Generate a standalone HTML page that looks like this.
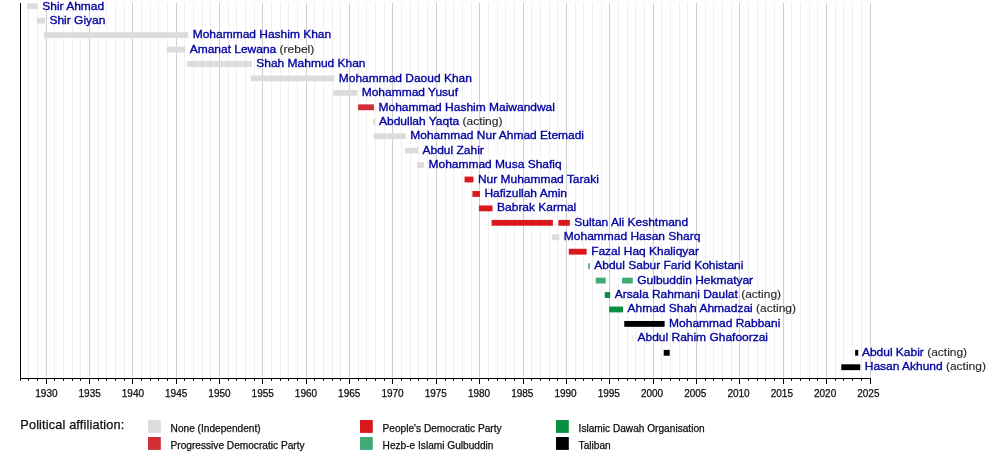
<!DOCTYPE html>
<html><head><meta charset="utf-8"><title>Timeline</title>
<style>
html,body{margin:0;padding:0;background:#fff;}
svg{display:block;font-family:"Liberation Sans",sans-serif;}
.n{font-size:11.6px;fill:#0202a0;stroke:#0202a0;stroke-width:0.34px;}
.a{fill:#282828;stroke:#282828;stroke-width:0.15px;}
.t{font-size:10px;fill:#0e0e0e;stroke:#0e0e0e;stroke-width:0.25px;text-anchor:middle;}
.l{font-size:10.15px;fill:#0e0e0e;stroke:#0e0e0e;stroke-width:0.25px;}
.h{font-size:12.7px;fill:#0e0e0e;stroke:#0e0e0e;stroke-width:0.25px;}
</style></head><body>
<svg width="1000" height="458" viewBox="0 0 1000 458">
<rect width="1000" height="458" fill="#fff"/>
<line x1="28.50" y1="3" x2="28.50" y2="378" stroke="#f0f0f0" stroke-width="1"/>
<line x1="37.50" y1="3" x2="37.50" y2="378" stroke="#f0f0f0" stroke-width="1"/>
<line x1="46.50" y1="3" x2="46.50" y2="378" stroke="#d0d0d0" stroke-width="1"/>
<line x1="54.50" y1="3" x2="54.50" y2="378" stroke="#f0f0f0" stroke-width="1"/>
<line x1="63.50" y1="3" x2="63.50" y2="378" stroke="#f0f0f0" stroke-width="1"/>
<line x1="72.50" y1="3" x2="72.50" y2="378" stroke="#f0f0f0" stroke-width="1"/>
<line x1="80.50" y1="3" x2="80.50" y2="378" stroke="#f0f0f0" stroke-width="1"/>
<line x1="89.50" y1="3" x2="89.50" y2="378" stroke="#d0d0d0" stroke-width="1"/>
<line x1="98.50" y1="3" x2="98.50" y2="378" stroke="#f0f0f0" stroke-width="1"/>
<line x1="106.50" y1="3" x2="106.50" y2="378" stroke="#f0f0f0" stroke-width="1"/>
<line x1="115.50" y1="3" x2="115.50" y2="378" stroke="#f0f0f0" stroke-width="1"/>
<line x1="124.50" y1="3" x2="124.50" y2="378" stroke="#f0f0f0" stroke-width="1"/>
<line x1="132.50" y1="3" x2="132.50" y2="378" stroke="#d0d0d0" stroke-width="1"/>
<line x1="141.50" y1="3" x2="141.50" y2="378" stroke="#f0f0f0" stroke-width="1"/>
<line x1="150.50" y1="3" x2="150.50" y2="378" stroke="#f0f0f0" stroke-width="1"/>
<line x1="158.50" y1="3" x2="158.50" y2="378" stroke="#f0f0f0" stroke-width="1"/>
<line x1="167.50" y1="3" x2="167.50" y2="378" stroke="#f0f0f0" stroke-width="1"/>
<line x1="176.50" y1="3" x2="176.50" y2="378" stroke="#d0d0d0" stroke-width="1"/>
<line x1="184.50" y1="3" x2="184.50" y2="378" stroke="#f0f0f0" stroke-width="1"/>
<line x1="193.50" y1="3" x2="193.50" y2="378" stroke="#f0f0f0" stroke-width="1"/>
<line x1="202.50" y1="3" x2="202.50" y2="378" stroke="#f0f0f0" stroke-width="1"/>
<line x1="210.50" y1="3" x2="210.50" y2="378" stroke="#f0f0f0" stroke-width="1"/>
<line x1="219.50" y1="3" x2="219.50" y2="378" stroke="#d0d0d0" stroke-width="1"/>
<line x1="228.50" y1="3" x2="228.50" y2="378" stroke="#f0f0f0" stroke-width="1"/>
<line x1="236.50" y1="3" x2="236.50" y2="378" stroke="#f0f0f0" stroke-width="1"/>
<line x1="245.50" y1="3" x2="245.50" y2="378" stroke="#f0f0f0" stroke-width="1"/>
<line x1="254.50" y1="3" x2="254.50" y2="378" stroke="#f0f0f0" stroke-width="1"/>
<line x1="262.50" y1="3" x2="262.50" y2="378" stroke="#d0d0d0" stroke-width="1"/>
<line x1="271.50" y1="3" x2="271.50" y2="378" stroke="#f0f0f0" stroke-width="1"/>
<line x1="280.50" y1="3" x2="280.50" y2="378" stroke="#f0f0f0" stroke-width="1"/>
<line x1="288.50" y1="3" x2="288.50" y2="378" stroke="#f0f0f0" stroke-width="1"/>
<line x1="297.50" y1="3" x2="297.50" y2="378" stroke="#f0f0f0" stroke-width="1"/>
<line x1="306.50" y1="3" x2="306.50" y2="378" stroke="#d0d0d0" stroke-width="1"/>
<line x1="314.50" y1="3" x2="314.50" y2="378" stroke="#f0f0f0" stroke-width="1"/>
<line x1="323.50" y1="3" x2="323.50" y2="378" stroke="#f0f0f0" stroke-width="1"/>
<line x1="332.50" y1="3" x2="332.50" y2="378" stroke="#f0f0f0" stroke-width="1"/>
<line x1="340.50" y1="3" x2="340.50" y2="378" stroke="#f0f0f0" stroke-width="1"/>
<line x1="349.50" y1="3" x2="349.50" y2="378" stroke="#d0d0d0" stroke-width="1"/>
<line x1="358.50" y1="3" x2="358.50" y2="378" stroke="#f0f0f0" stroke-width="1"/>
<line x1="366.50" y1="3" x2="366.50" y2="378" stroke="#f0f0f0" stroke-width="1"/>
<line x1="375.50" y1="3" x2="375.50" y2="378" stroke="#f0f0f0" stroke-width="1"/>
<line x1="384.50" y1="3" x2="384.50" y2="378" stroke="#f0f0f0" stroke-width="1"/>
<line x1="392.50" y1="3" x2="392.50" y2="378" stroke="#d0d0d0" stroke-width="1"/>
<line x1="401.50" y1="3" x2="401.50" y2="378" stroke="#f0f0f0" stroke-width="1"/>
<line x1="410.50" y1="3" x2="410.50" y2="378" stroke="#f0f0f0" stroke-width="1"/>
<line x1="418.50" y1="3" x2="418.50" y2="378" stroke="#f0f0f0" stroke-width="1"/>
<line x1="427.50" y1="3" x2="427.50" y2="378" stroke="#f0f0f0" stroke-width="1"/>
<line x1="436.50" y1="3" x2="436.50" y2="378" stroke="#d0d0d0" stroke-width="1"/>
<line x1="445.50" y1="3" x2="445.50" y2="378" stroke="#f0f0f0" stroke-width="1"/>
<line x1="453.50" y1="3" x2="453.50" y2="378" stroke="#f0f0f0" stroke-width="1"/>
<line x1="462.50" y1="3" x2="462.50" y2="378" stroke="#f0f0f0" stroke-width="1"/>
<line x1="471.50" y1="3" x2="471.50" y2="378" stroke="#f0f0f0" stroke-width="1"/>
<line x1="479.50" y1="3" x2="479.50" y2="378" stroke="#d0d0d0" stroke-width="1"/>
<line x1="488.50" y1="3" x2="488.50" y2="378" stroke="#f0f0f0" stroke-width="1"/>
<line x1="497.50" y1="3" x2="497.50" y2="378" stroke="#f0f0f0" stroke-width="1"/>
<line x1="505.50" y1="3" x2="505.50" y2="378" stroke="#f0f0f0" stroke-width="1"/>
<line x1="514.50" y1="3" x2="514.50" y2="378" stroke="#f0f0f0" stroke-width="1"/>
<line x1="523.50" y1="3" x2="523.50" y2="378" stroke="#d0d0d0" stroke-width="1"/>
<line x1="531.50" y1="3" x2="531.50" y2="378" stroke="#f0f0f0" stroke-width="1"/>
<line x1="540.50" y1="3" x2="540.50" y2="378" stroke="#f0f0f0" stroke-width="1"/>
<line x1="549.50" y1="3" x2="549.50" y2="378" stroke="#f0f0f0" stroke-width="1"/>
<line x1="557.50" y1="3" x2="557.50" y2="378" stroke="#f0f0f0" stroke-width="1"/>
<line x1="566.50" y1="3" x2="566.50" y2="378" stroke="#d0d0d0" stroke-width="1"/>
<line x1="575.50" y1="3" x2="575.50" y2="378" stroke="#f0f0f0" stroke-width="1"/>
<line x1="583.50" y1="3" x2="583.50" y2="378" stroke="#f0f0f0" stroke-width="1"/>
<line x1="592.50" y1="3" x2="592.50" y2="378" stroke="#f0f0f0" stroke-width="1"/>
<line x1="601.50" y1="3" x2="601.50" y2="378" stroke="#f0f0f0" stroke-width="1"/>
<line x1="609.50" y1="3" x2="609.50" y2="378" stroke="#d0d0d0" stroke-width="1"/>
<line x1="618.50" y1="3" x2="618.50" y2="378" stroke="#f0f0f0" stroke-width="1"/>
<line x1="627.50" y1="3" x2="627.50" y2="378" stroke="#f0f0f0" stroke-width="1"/>
<line x1="635.50" y1="3" x2="635.50" y2="378" stroke="#f0f0f0" stroke-width="1"/>
<line x1="644.50" y1="3" x2="644.50" y2="378" stroke="#f0f0f0" stroke-width="1"/>
<line x1="653.50" y1="3" x2="653.50" y2="378" stroke="#d0d0d0" stroke-width="1"/>
<line x1="661.50" y1="3" x2="661.50" y2="378" stroke="#f0f0f0" stroke-width="1"/>
<line x1="670.50" y1="3" x2="670.50" y2="378" stroke="#f0f0f0" stroke-width="1"/>
<line x1="679.50" y1="3" x2="679.50" y2="378" stroke="#f0f0f0" stroke-width="1"/>
<line x1="687.50" y1="3" x2="687.50" y2="378" stroke="#f0f0f0" stroke-width="1"/>
<line x1="696.50" y1="3" x2="696.50" y2="378" stroke="#d0d0d0" stroke-width="1"/>
<line x1="705.50" y1="3" x2="705.50" y2="378" stroke="#f0f0f0" stroke-width="1"/>
<line x1="713.50" y1="3" x2="713.50" y2="378" stroke="#f0f0f0" stroke-width="1"/>
<line x1="722.50" y1="3" x2="722.50" y2="378" stroke="#f0f0f0" stroke-width="1"/>
<line x1="731.50" y1="3" x2="731.50" y2="378" stroke="#f0f0f0" stroke-width="1"/>
<line x1="739.50" y1="3" x2="739.50" y2="378" stroke="#d0d0d0" stroke-width="1"/>
<line x1="748.50" y1="3" x2="748.50" y2="378" stroke="#f0f0f0" stroke-width="1"/>
<line x1="757.50" y1="3" x2="757.50" y2="378" stroke="#f0f0f0" stroke-width="1"/>
<line x1="765.50" y1="3" x2="765.50" y2="378" stroke="#f0f0f0" stroke-width="1"/>
<line x1="774.50" y1="3" x2="774.50" y2="378" stroke="#f0f0f0" stroke-width="1"/>
<line x1="783.50" y1="3" x2="783.50" y2="378" stroke="#d0d0d0" stroke-width="1"/>
<line x1="791.50" y1="3" x2="791.50" y2="378" stroke="#f0f0f0" stroke-width="1"/>
<line x1="800.50" y1="3" x2="800.50" y2="378" stroke="#f0f0f0" stroke-width="1"/>
<line x1="809.50" y1="3" x2="809.50" y2="378" stroke="#f0f0f0" stroke-width="1"/>
<line x1="817.50" y1="3" x2="817.50" y2="378" stroke="#f0f0f0" stroke-width="1"/>
<line x1="826.50" y1="3" x2="826.50" y2="378" stroke="#d0d0d0" stroke-width="1"/>
<line x1="835.50" y1="3" x2="835.50" y2="378" stroke="#f0f0f0" stroke-width="1"/>
<line x1="843.50" y1="3" x2="843.50" y2="378" stroke="#f0f0f0" stroke-width="1"/>
<line x1="852.50" y1="3" x2="852.50" y2="378" stroke="#f0f0f0" stroke-width="1"/>
<line x1="861.50" y1="3" x2="861.50" y2="378" stroke="#f0f0f0" stroke-width="1"/>
<line x1="870.50" y1="3" x2="870.50" y2="378" stroke="#d0d0d0" stroke-width="1"/>
<rect x="27.21" y="3.30" width="10.54" height="5.85" fill="#dcdcdc"/>
<rect x="36.75" y="17.74" width="8.22" height="5.85" fill="#dcdcdc"/>
<rect x="43.96" y="32.18" width="144.26" height="5.85" fill="#dcdcdc"/>
<rect x="166.84" y="46.62" width="18.35" height="5.85" fill="#dcdcdc"/>
<rect x="187.23" y="61.06" width="64.58" height="5.85" fill="#dcdcdc"/>
<rect x="250.81" y="75.50" width="83.43" height="5.85" fill="#dcdcdc"/>
<rect x="333.24" y="89.94" width="23.97" height="5.85" fill="#dcdcdc"/>
<rect x="358.08" y="104.38" width="15.96" height="5.85" fill="#d02e36"/>
<rect x="373.00" y="118.82" width="2.13" height="5.85" fill="#dcdcdc"/>
<rect x="373.54" y="133.26" width="32.25" height="5.85" fill="#dcdcdc"/>
<rect x="404.79" y="147.70" width="13.27" height="5.85" fill="#dcdcdc"/>
<rect x="417.06" y="162.14" width="6.98" height="5.85" fill="#dcdcdc"/>
<rect x="464.57" y="176.58" width="8.84" height="5.85" fill="#da1820"/>
<rect x="472.41" y="191.02" width="7.53" height="5.85" fill="#da1820"/>
<rect x="478.94" y="205.46" width="13.62" height="5.85" fill="#da1820"/>
<rect x="491.57" y="219.90" width="61.35" height="5.85" fill="#da1820"/>
<rect x="558.34" y="219.90" width="11.48" height="5.85" fill="#da1820"/>
<rect x="551.92" y="234.34" width="7.42" height="5.85" fill="#dcdcdc"/>
<rect x="568.81" y="248.78" width="17.82" height="5.85" fill="#da1820"/>
<rect x="588.18" y="263.22" width="1.61" height="5.85" fill="#40a974"/>
<rect x="595.78" y="277.66" width="9.93" height="5.85" fill="#40a974"/>
<rect x="622.04" y="277.66" width="10.74" height="5.85" fill="#40a974"/>
<rect x="604.72" y="292.10" width="5.45" height="5.85" fill="#0a8e42"/>
<rect x="609.16" y="306.54" width="13.88" height="5.85" fill="#0a8e42"/>
<rect x="624.25" y="320.98" width="40.38" height="5.85" fill="#000000"/>
<rect x="632.48" y="335.37" width="0.7" height="5.8" fill="#dcdcdc"/>
<rect x="663.70" y="349.86" width="6.01" height="5.85" fill="#000000"/>
<rect x="855.13" y="349.86" width="3.08" height="5.85" fill="#000000"/>
<rect x="841.25" y="364.30" width="18.97" height="5.85" fill="#000000"/>
<line x1="20.5" y1="3" x2="20.5" y2="379" stroke="#000" stroke-width="1"/>
<line x1="20" y1="378.5" x2="871" y2="378.5" stroke="#000" stroke-width="1"/>
<line x1="20.50" y1="378.2" x2="20.50" y2="380.8" stroke="#000" stroke-width="1"/>
<line x1="28.50" y1="378.2" x2="28.50" y2="380.8" stroke="#000" stroke-width="1"/>
<line x1="37.50" y1="378.2" x2="37.50" y2="380.8" stroke="#000" stroke-width="1"/>
<line x1="46.50" y1="378.2" x2="46.50" y2="384" stroke="#000" stroke-width="1"/>
<text class="t" x="46.42" y="396.9">1930</text>
<line x1="54.50" y1="378.2" x2="54.50" y2="380.8" stroke="#000" stroke-width="1"/>
<line x1="63.50" y1="378.2" x2="63.50" y2="380.8" stroke="#000" stroke-width="1"/>
<line x1="72.50" y1="378.2" x2="72.50" y2="380.8" stroke="#000" stroke-width="1"/>
<line x1="80.50" y1="378.2" x2="80.50" y2="380.8" stroke="#000" stroke-width="1"/>
<line x1="89.50" y1="378.2" x2="89.50" y2="384" stroke="#000" stroke-width="1"/>
<text class="t" x="89.68" y="396.9">1935</text>
<line x1="98.50" y1="378.2" x2="98.50" y2="380.8" stroke="#000" stroke-width="1"/>
<line x1="106.50" y1="378.2" x2="106.50" y2="380.8" stroke="#000" stroke-width="1"/>
<line x1="115.50" y1="378.2" x2="115.50" y2="380.8" stroke="#000" stroke-width="1"/>
<line x1="124.50" y1="378.2" x2="124.50" y2="380.8" stroke="#000" stroke-width="1"/>
<line x1="132.50" y1="378.2" x2="132.50" y2="384" stroke="#000" stroke-width="1"/>
<text class="t" x="132.94" y="396.9">1940</text>
<line x1="141.50" y1="378.2" x2="141.50" y2="380.8" stroke="#000" stroke-width="1"/>
<line x1="150.50" y1="378.2" x2="150.50" y2="380.8" stroke="#000" stroke-width="1"/>
<line x1="158.50" y1="378.2" x2="158.50" y2="380.8" stroke="#000" stroke-width="1"/>
<line x1="167.50" y1="378.2" x2="167.50" y2="380.8" stroke="#000" stroke-width="1"/>
<line x1="176.50" y1="378.2" x2="176.50" y2="384" stroke="#000" stroke-width="1"/>
<text class="t" x="176.20" y="396.9">1945</text>
<line x1="184.50" y1="378.2" x2="184.50" y2="380.8" stroke="#000" stroke-width="1"/>
<line x1="193.50" y1="378.2" x2="193.50" y2="380.8" stroke="#000" stroke-width="1"/>
<line x1="202.50" y1="378.2" x2="202.50" y2="380.8" stroke="#000" stroke-width="1"/>
<line x1="210.50" y1="378.2" x2="210.50" y2="380.8" stroke="#000" stroke-width="1"/>
<line x1="219.50" y1="378.2" x2="219.50" y2="384" stroke="#000" stroke-width="1"/>
<text class="t" x="219.46" y="396.9">1950</text>
<line x1="228.50" y1="378.2" x2="228.50" y2="380.8" stroke="#000" stroke-width="1"/>
<line x1="236.50" y1="378.2" x2="236.50" y2="380.8" stroke="#000" stroke-width="1"/>
<line x1="245.50" y1="378.2" x2="245.50" y2="380.8" stroke="#000" stroke-width="1"/>
<line x1="254.50" y1="378.2" x2="254.50" y2="380.8" stroke="#000" stroke-width="1"/>
<line x1="262.50" y1="378.2" x2="262.50" y2="384" stroke="#000" stroke-width="1"/>
<text class="t" x="262.72" y="396.9">1955</text>
<line x1="271.50" y1="378.2" x2="271.50" y2="380.8" stroke="#000" stroke-width="1"/>
<line x1="280.50" y1="378.2" x2="280.50" y2="380.8" stroke="#000" stroke-width="1"/>
<line x1="288.50" y1="378.2" x2="288.50" y2="380.8" stroke="#000" stroke-width="1"/>
<line x1="297.50" y1="378.2" x2="297.50" y2="380.8" stroke="#000" stroke-width="1"/>
<line x1="306.50" y1="378.2" x2="306.50" y2="384" stroke="#000" stroke-width="1"/>
<text class="t" x="305.98" y="396.9">1960</text>
<line x1="314.50" y1="378.2" x2="314.50" y2="380.8" stroke="#000" stroke-width="1"/>
<line x1="323.50" y1="378.2" x2="323.50" y2="380.8" stroke="#000" stroke-width="1"/>
<line x1="332.50" y1="378.2" x2="332.50" y2="380.8" stroke="#000" stroke-width="1"/>
<line x1="340.50" y1="378.2" x2="340.50" y2="380.8" stroke="#000" stroke-width="1"/>
<line x1="349.50" y1="378.2" x2="349.50" y2="384" stroke="#000" stroke-width="1"/>
<text class="t" x="349.24" y="396.9">1965</text>
<line x1="358.50" y1="378.2" x2="358.50" y2="380.8" stroke="#000" stroke-width="1"/>
<line x1="366.50" y1="378.2" x2="366.50" y2="380.8" stroke="#000" stroke-width="1"/>
<line x1="375.50" y1="378.2" x2="375.50" y2="380.8" stroke="#000" stroke-width="1"/>
<line x1="384.50" y1="378.2" x2="384.50" y2="380.8" stroke="#000" stroke-width="1"/>
<line x1="392.50" y1="378.2" x2="392.50" y2="384" stroke="#000" stroke-width="1"/>
<text class="t" x="392.50" y="396.9">1970</text>
<line x1="401.50" y1="378.2" x2="401.50" y2="380.8" stroke="#000" stroke-width="1"/>
<line x1="410.50" y1="378.2" x2="410.50" y2="380.8" stroke="#000" stroke-width="1"/>
<line x1="418.50" y1="378.2" x2="418.50" y2="380.8" stroke="#000" stroke-width="1"/>
<line x1="427.50" y1="378.2" x2="427.50" y2="380.8" stroke="#000" stroke-width="1"/>
<line x1="436.50" y1="378.2" x2="436.50" y2="384" stroke="#000" stroke-width="1"/>
<text class="t" x="435.76" y="396.9">1975</text>
<line x1="445.50" y1="378.2" x2="445.50" y2="380.8" stroke="#000" stroke-width="1"/>
<line x1="453.50" y1="378.2" x2="453.50" y2="380.8" stroke="#000" stroke-width="1"/>
<line x1="462.50" y1="378.2" x2="462.50" y2="380.8" stroke="#000" stroke-width="1"/>
<line x1="471.50" y1="378.2" x2="471.50" y2="380.8" stroke="#000" stroke-width="1"/>
<line x1="479.50" y1="378.2" x2="479.50" y2="384" stroke="#000" stroke-width="1"/>
<text class="t" x="479.02" y="396.9">1980</text>
<line x1="488.50" y1="378.2" x2="488.50" y2="380.8" stroke="#000" stroke-width="1"/>
<line x1="497.50" y1="378.2" x2="497.50" y2="380.8" stroke="#000" stroke-width="1"/>
<line x1="505.50" y1="378.2" x2="505.50" y2="380.8" stroke="#000" stroke-width="1"/>
<line x1="514.50" y1="378.2" x2="514.50" y2="380.8" stroke="#000" stroke-width="1"/>
<line x1="523.50" y1="378.2" x2="523.50" y2="384" stroke="#000" stroke-width="1"/>
<text class="t" x="522.28" y="396.9">1985</text>
<line x1="531.50" y1="378.2" x2="531.50" y2="380.8" stroke="#000" stroke-width="1"/>
<line x1="540.50" y1="378.2" x2="540.50" y2="380.8" stroke="#000" stroke-width="1"/>
<line x1="549.50" y1="378.2" x2="549.50" y2="380.8" stroke="#000" stroke-width="1"/>
<line x1="557.50" y1="378.2" x2="557.50" y2="380.8" stroke="#000" stroke-width="1"/>
<line x1="566.50" y1="378.2" x2="566.50" y2="384" stroke="#000" stroke-width="1"/>
<text class="t" x="565.54" y="396.9">1990</text>
<line x1="575.50" y1="378.2" x2="575.50" y2="380.8" stroke="#000" stroke-width="1"/>
<line x1="583.50" y1="378.2" x2="583.50" y2="380.8" stroke="#000" stroke-width="1"/>
<line x1="592.50" y1="378.2" x2="592.50" y2="380.8" stroke="#000" stroke-width="1"/>
<line x1="601.50" y1="378.2" x2="601.50" y2="380.8" stroke="#000" stroke-width="1"/>
<line x1="609.50" y1="378.2" x2="609.50" y2="384" stroke="#000" stroke-width="1"/>
<text class="t" x="608.80" y="396.9">1995</text>
<line x1="618.50" y1="378.2" x2="618.50" y2="380.8" stroke="#000" stroke-width="1"/>
<line x1="627.50" y1="378.2" x2="627.50" y2="380.8" stroke="#000" stroke-width="1"/>
<line x1="635.50" y1="378.2" x2="635.50" y2="380.8" stroke="#000" stroke-width="1"/>
<line x1="644.50" y1="378.2" x2="644.50" y2="380.8" stroke="#000" stroke-width="1"/>
<line x1="653.50" y1="378.2" x2="653.50" y2="384" stroke="#000" stroke-width="1"/>
<text class="t" x="652.06" y="396.9">2000</text>
<line x1="661.50" y1="378.2" x2="661.50" y2="380.8" stroke="#000" stroke-width="1"/>
<line x1="670.50" y1="378.2" x2="670.50" y2="380.8" stroke="#000" stroke-width="1"/>
<line x1="679.50" y1="378.2" x2="679.50" y2="380.8" stroke="#000" stroke-width="1"/>
<line x1="687.50" y1="378.2" x2="687.50" y2="380.8" stroke="#000" stroke-width="1"/>
<line x1="696.50" y1="378.2" x2="696.50" y2="384" stroke="#000" stroke-width="1"/>
<text class="t" x="695.32" y="396.9">2005</text>
<line x1="705.50" y1="378.2" x2="705.50" y2="380.8" stroke="#000" stroke-width="1"/>
<line x1="713.50" y1="378.2" x2="713.50" y2="380.8" stroke="#000" stroke-width="1"/>
<line x1="722.50" y1="378.2" x2="722.50" y2="380.8" stroke="#000" stroke-width="1"/>
<line x1="731.50" y1="378.2" x2="731.50" y2="380.8" stroke="#000" stroke-width="1"/>
<line x1="739.50" y1="378.2" x2="739.50" y2="384" stroke="#000" stroke-width="1"/>
<text class="t" x="738.57" y="396.9">2010</text>
<line x1="748.50" y1="378.2" x2="748.50" y2="380.8" stroke="#000" stroke-width="1"/>
<line x1="757.50" y1="378.2" x2="757.50" y2="380.8" stroke="#000" stroke-width="1"/>
<line x1="765.50" y1="378.2" x2="765.50" y2="380.8" stroke="#000" stroke-width="1"/>
<line x1="774.50" y1="378.2" x2="774.50" y2="380.8" stroke="#000" stroke-width="1"/>
<line x1="783.50" y1="378.2" x2="783.50" y2="384" stroke="#000" stroke-width="1"/>
<text class="t" x="781.83" y="396.9">2015</text>
<line x1="791.50" y1="378.2" x2="791.50" y2="380.8" stroke="#000" stroke-width="1"/>
<line x1="800.50" y1="378.2" x2="800.50" y2="380.8" stroke="#000" stroke-width="1"/>
<line x1="809.50" y1="378.2" x2="809.50" y2="380.8" stroke="#000" stroke-width="1"/>
<line x1="817.50" y1="378.2" x2="817.50" y2="380.8" stroke="#000" stroke-width="1"/>
<line x1="826.50" y1="378.2" x2="826.50" y2="384" stroke="#000" stroke-width="1"/>
<text class="t" x="825.09" y="396.9">2020</text>
<line x1="835.50" y1="378.2" x2="835.50" y2="380.8" stroke="#000" stroke-width="1"/>
<line x1="843.50" y1="378.2" x2="843.50" y2="380.8" stroke="#000" stroke-width="1"/>
<line x1="852.50" y1="378.2" x2="852.50" y2="380.8" stroke="#000" stroke-width="1"/>
<line x1="861.50" y1="378.2" x2="861.50" y2="380.8" stroke="#000" stroke-width="1"/>
<line x1="870.50" y1="378.2" x2="870.50" y2="384" stroke="#000" stroke-width="1"/>
<text class="t" x="868.35" y="396.9">2025</text>
<text class="n" transform="translate(42.25,9.60) scale(1.034,1)">Shir Ahmad</text>
<text class="n" transform="translate(49.46,24.02) scale(1.034,1)">Shir Giyan</text>
<text class="n" transform="translate(192.73,38.44) scale(1.034,1)">Mohammad Hashim Khan</text>
<text class="n" transform="translate(189.69,52.86) scale(1.034,1)">Amanat Lewana<tspan class="a"> (rebel)</tspan></text>
<text class="n" transform="translate(256.31,67.28) scale(1.034,1)">Shah Mahmud Khan</text>
<text class="n" transform="translate(338.74,81.70) scale(1.034,1)">Mohammad Daoud Khan</text>
<text class="n" transform="translate(361.72,96.12) scale(1.034,1)">Mohammad Yusuf</text>
<text class="n" transform="translate(378.54,110.54) scale(1.034,1)">Mohammad Hashim Maiwandwal</text>
<text class="n" transform="translate(379.03,124.96) scale(1.034,1)">Abdullah Yaqta<tspan class="a"> (acting)</tspan></text>
<text class="n" transform="translate(410.29,139.38) scale(1.034,1)">Mohammad Nur Ahmad Etemadi</text>
<text class="n" transform="translate(422.56,153.80) scale(1.034,1)">Abdul Zahir</text>
<text class="n" transform="translate(428.54,168.22) scale(1.034,1)">Mohammad Musa Shafiq</text>
<text class="n" transform="translate(477.91,182.64) scale(1.034,1)">Nur Muhammad Taraki</text>
<text class="n" transform="translate(484.44,197.06) scale(1.034,1)">Hafizullah Amin</text>
<text class="n" transform="translate(497.07,211.48) scale(1.034,1)">Babrak Karmal</text>
<text class="n" transform="translate(574.31,225.90) scale(1.034,1)">Sultan Ali Keshtmand</text>
<text class="n" transform="translate(563.84,240.32) scale(1.034,1)">Mohammad Hasan Sharq</text>
<text class="n" transform="translate(591.14,254.74) scale(1.034,1)">Fazal Haq Khaliqyar</text>
<text class="n" transform="translate(594.28,269.16) scale(1.034,1)">Abdul Sabur Farid Kohistani</text>
<text class="n" transform="translate(637.28,283.58) scale(1.034,1)">Gulbuddin Hekmatyar</text>
<text class="n" transform="translate(614.66,298.00) scale(1.034,1)">Arsala Rahmani Daulat<tspan class="a"> (acting)</tspan></text>
<text class="n" transform="translate(627.54,312.42) scale(1.034,1)">Ahmad Shah Ahmadzai<tspan class="a"> (acting)</tspan></text>
<text class="n" transform="translate(669.12,326.84) scale(1.034,1)">Mohammad Rabbani</text>
<text class="n" transform="translate(637.52,341.26) scale(1.034,1)">Abdul Rahim Ghafoorzai</text>
<text class="n" transform="translate(861.91,355.68) scale(1.034,1)">Abdul Kabir<tspan class="a"> (acting)</tspan></text>
<text class="n" transform="translate(864.73,370.10) scale(1.034,1)">Hasan Akhund<tspan class="a"> (acting)</tspan></text>
<text class="h" x="20.3" y="428.8" textLength="104" lengthAdjust="spacing">Political affiliation:</text>
<rect x="148" y="420" width="12.8" height="12.9" fill="#dcdcdc"/>
<text class="l" x="170.6" y="431.6">None (Independent)</text>
<rect x="148" y="437" width="12.8" height="12.9" fill="#d02e36"/>
<text class="l" x="170.6" y="448.6">Progressive Democratic Party</text>
<rect x="360" y="420" width="12.8" height="12.9" fill="#da1820"/>
<text class="l" x="382.6" y="431.6">People's Democratic Party</text>
<rect x="360" y="437" width="12.8" height="12.9" fill="#40a974"/>
<text class="l" x="382.6" y="448.6">Hezb-e Islami Gulbuddin</text>
<rect x="556" y="420" width="12.8" height="12.9" fill="#0a8e42"/>
<text class="l" x="578.6" y="431.6">Islamic Dawah Organisation</text>
<rect x="556" y="437" width="12.8" height="12.9" fill="#000000"/>
<text class="l" x="578.6" y="448.6">Taliban</text>
</svg></body></html>
